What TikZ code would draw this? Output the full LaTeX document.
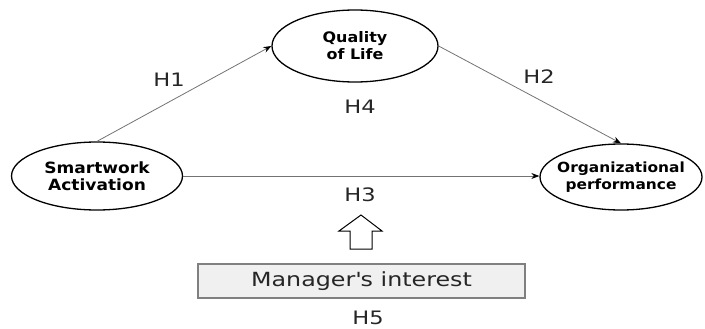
\documentclass[tikz,border=0pt]{standalone}
\usepackage{fontspec}
\setmainfont{DejaVu Sans}[FakeStretch=1.1]
\newfontfamily\lblfont{DejaVu Sans}[FakeStretch=1.22]
\usetikzlibrary{shapes.geometric,arrows.meta}
\begin{document}
\begin{tikzpicture}[x=1pt,y=-1pt,
  var/.style={ellipse,draw=black,line width=1.3pt,inner sep=0pt},
  vartext/.style={align=center,inner sep=0pt,font=\fontsize{#1}{17}\selectfont\bfseries},
  hlab/.style={font=\lblfont\fontsize{18.5}{20}\selectfont,text=black!85,inner sep=0pt},
  link/.style={draw=black!55,line width=0.8pt,-{Stealth[length=8pt,width=6pt,color=black]}}]
\useasboundingbox (0,0) rectangle (705,329);
\node[var,minimum width=171pt,minimum height=68pt] (sa) at (97,176) {};
\node[vartext=15.5] (sat) at (sa) {Smartwork\\Activation};
\node[var,minimum width=166pt,minimum height=72pt] (ql) at (355,46) {};
\node[vartext=14.5] (qlt) at (ql) {Quality\\of Life};
\node[var,minimum width=162pt,minimum height=66pt] (op) at (621,177) {};
\node[vartext=14] (opt) at (op) {Organizational\\performance};
\node[draw=black!50,fill=black!6,line width=1.2pt,minimum width=327pt,minimum height=34pt,inner sep=0pt,
  font=\lblfont\fontsize{19.5}{21}\selectfont,text=black!85] (mi) at (361.5,281) {Manager\textquotesingle s interest};
\node[hlab] (h1) at (169,80) {H1};
\node[hlab] (h2) at (539,77) {H2};
\node[hlab] (h4) at (360,107) {H4};
\node[hlab] (h3) at (360,195) {H3};
\node[hlab] (h5) at (368,318) {H5};
\draw[link] (sa.north) -- (ql.west);
\draw[link] (ql.east) -- (op.north);
\draw[link] (sa.east) -- (sa.east -| op.west);
\draw[line width=1pt,draw=black] (361,215) -- (382,231) -- (372,231) -- (372,249) -- (350,249) -- (350,231) -- (339,231) -- cycle;
\end{tikzpicture}
\end{document}
